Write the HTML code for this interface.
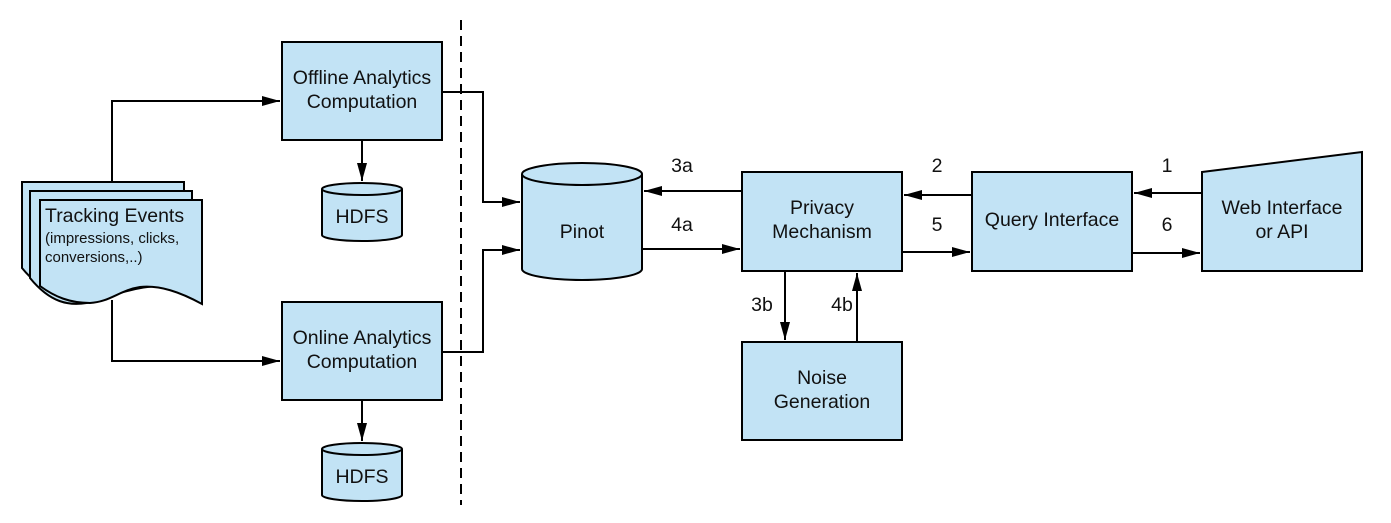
<!DOCTYPE html>
<html><head><meta charset="utf-8"><style>
html,body{margin:0;padding:0;background:#fff;}
svg{display:block;}
text{font-family:"Liberation Sans",sans-serif;fill:#111;text-anchor:middle;}
</style></head><body>
<svg width="1391" height="523" viewBox="0 0 1391 523" xmlns="http://www.w3.org/2000/svg">
<defs>
<marker id="b" markerWidth="18" markerHeight="10" refX="18" refY="5" orient="auto" markerUnits="userSpaceOnUse">
<path d="M0,0 L18,5 L0,10 z" fill="#000"/>
</marker>
</defs>
<g stroke="#000" stroke-width="2" fill="#c2e3f5">
<line x1="461" y1="20" x2="461" y2="505" stroke-dasharray="10,6" fill="none"/>
<g fill="none">
<polyline points="112,182 112,101 280,101" marker-end="url(#b)"/>
<polyline points="112,300 112,361 280,361" marker-end="url(#b)"/>
<line x1="362" y1="140" x2="362" y2="181" marker-end="url(#b)"/>
<line x1="362" y1="400" x2="362" y2="441" marker-end="url(#b)"/>
<polyline points="442,92 483,92 483,202 520,202" marker-end="url(#b)"/>
<polyline points="442,352 483,352 483,250 520,250" marker-end="url(#b)"/>
<line x1="742" y1="191" x2="644" y2="191" marker-end="url(#b)"/>
<line x1="642" y1="249" x2="740" y2="249" marker-end="url(#b)"/>
<line x1="972" y1="195" x2="904" y2="195" marker-end="url(#b)"/>
<line x1="902" y1="252" x2="970" y2="252" marker-end="url(#b)"/>
<line x1="1202" y1="193" x2="1134" y2="193" marker-end="url(#b)"/>
<line x1="1132" y1="253" x2="1200" y2="253" marker-end="url(#b)"/>
<line x1="785" y1="271" x2="785" y2="340" marker-end="url(#b)"/>
<line x1="857" y1="342" x2="857" y2="273" marker-end="url(#b)"/>
</g>
<path d="M22,182 H184 V280 C150,270 120,280 90,290 C60,300 40,290 22,268 Z"/>
<path d="M30,191 H192 V290 C158,280 128,290 98,300 C68,310 48,300 30,278 Z"/>
<path d="M40,200 H202 V304 C180,292 160,285 140,287 C120,290 110,302 90,303 C70,303 55,297 40,286 Z"/>
<rect x="282" y="42" width="160" height="98"/>
<rect x="282" y="302" width="160" height="98"/>
<rect x="742" y="172" width="160" height="99"/>
<rect x="972" y="172" width="160" height="99"/>
<rect x="742" y="342" width="160" height="98"/>
<path d="M1202,172 L1362,152 V271 H1202 Z"/>
<path d="M322,189 V235 A40,6 0 0 0 402,235 V189"/>
<ellipse cx="362" cy="189" rx="40" ry="6"/>
<path d="M322,449 V495 A40,6 0 0 0 402,495 V449"/>
<ellipse cx="362" cy="449" rx="40" ry="6"/>
<path d="M522,174 V269 A60,11 0 0 0 642,269 V174"/>
<ellipse cx="582" cy="174" rx="60" ry="11"/>
</g>
<g font-size="19.5">
<text x="362" y="84">Offline Analytics</text>
<text x="362" y="108">Computation</text>
<text x="362" y="344">Online Analytics</text>
<text x="362" y="368">Computation</text>
<text x="362" y="223">HDFS</text>
<text x="362" y="483">HDFS</text>
<text x="582" y="238">Pinot</text>
<text x="822" y="214">Privacy</text>
<text x="822" y="238">Mechanism</text>
<text x="1052" y="226">Query Interface</text>
<text x="822" y="384">Noise</text>
<text x="822" y="408">Generation</text>
<text x="1282" y="214">Web Interface</text>
<text x="1282" y="238">or API</text>
<text x="45" y="222" style="text-anchor:start">Tracking Events</text>
<text x="682" y="172">3a</text>
<text x="682" y="231">4a</text>
<text x="937" y="172">2</text>
<text x="937" y="231">5</text>
<text x="1167" y="172">1</text>
<text x="1167" y="231">6</text>
<text x="762" y="311">3b</text>
<text x="842" y="311">4b</text>
</g>
<g font-size="15">
<text x="45" y="243" style="text-anchor:start">(impressions, clicks,</text>
<text x="45" y="262" style="text-anchor:start">conversions,..)</text>
</g>
</svg>
</body></html>
